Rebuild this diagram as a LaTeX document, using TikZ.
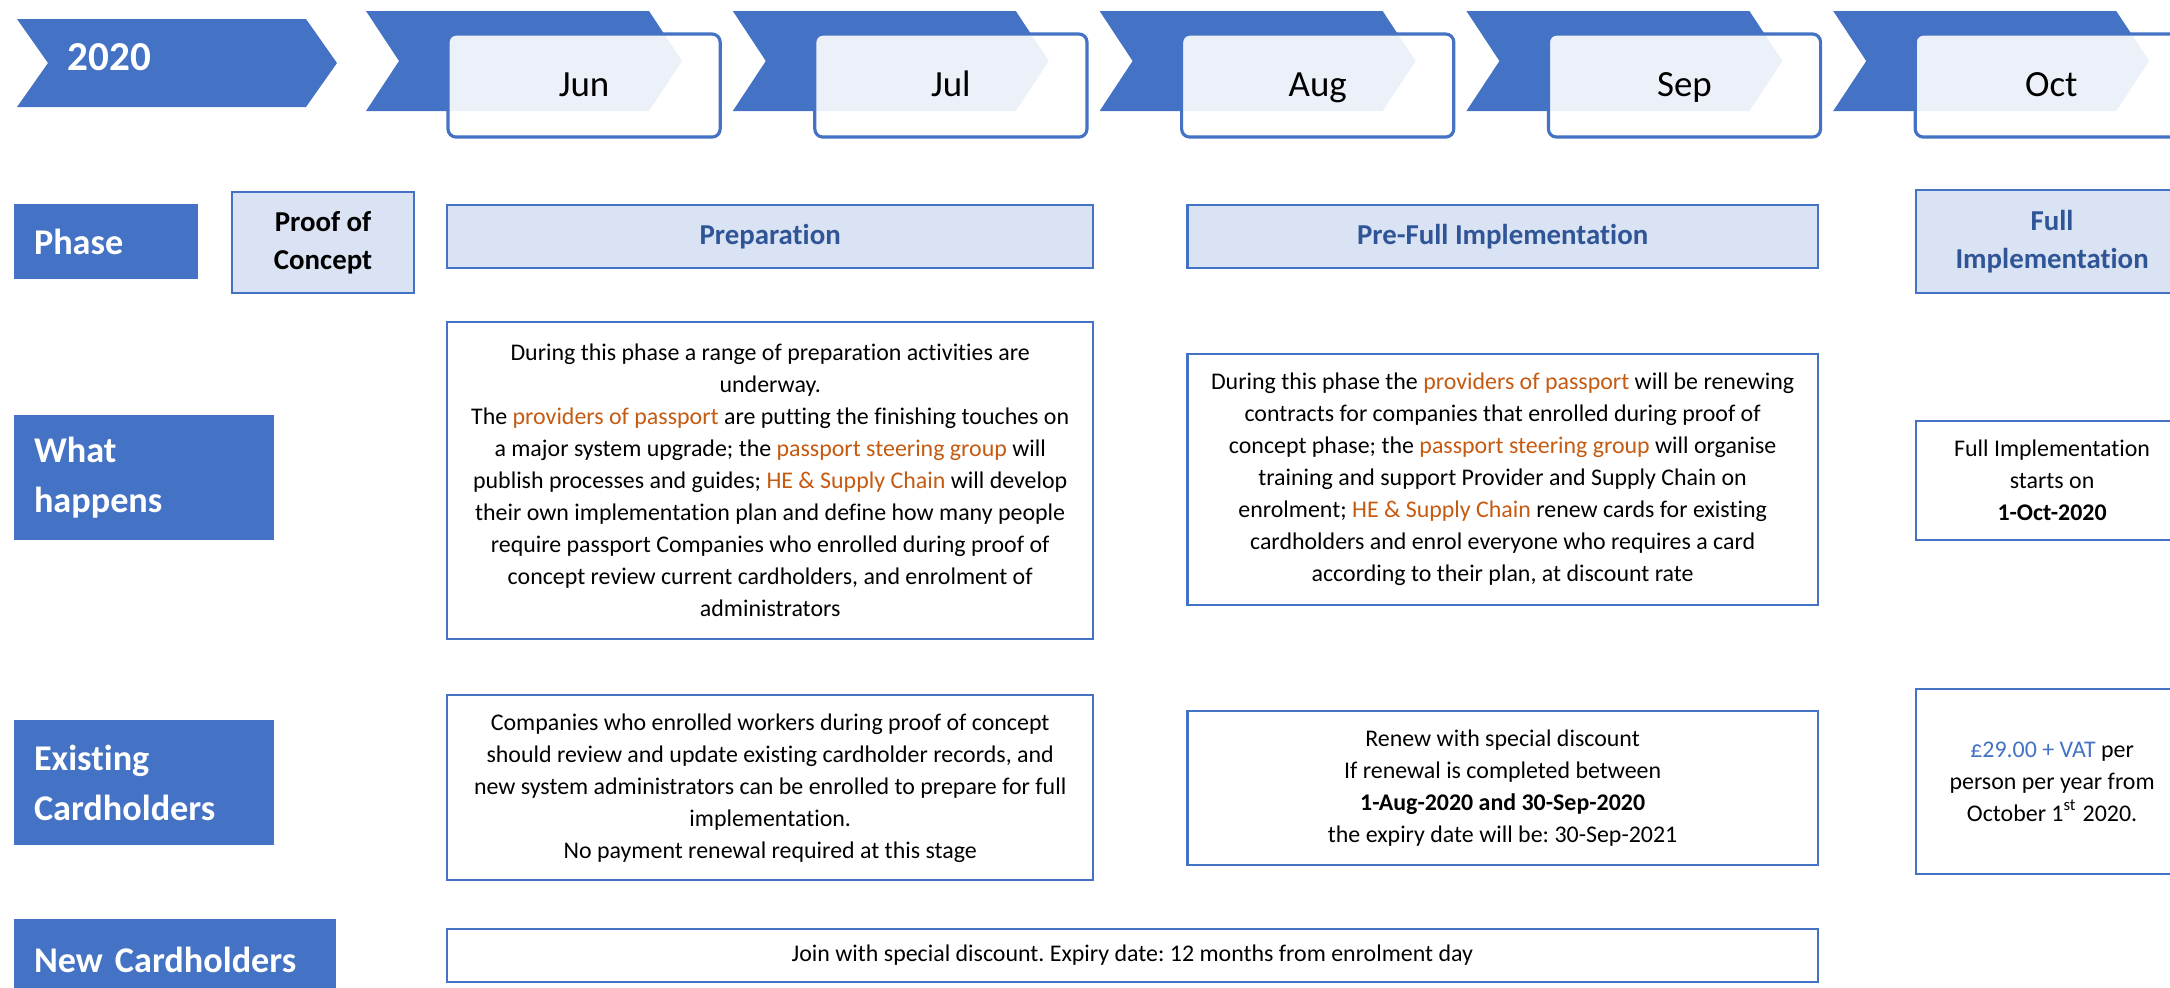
\documentclass[tikz,border=0pt]{standalone}
\usepackage{fontspec}
\setmainfont{Carlito}[Ligatures=NoCommon]
\frenchspacing
\usetikzlibrary{positioning}
\definecolor{accent}{HTML}{4472C4}
\definecolor{lightacc}{HTML}{DAE3F3}
\definecolor{darkacc}{HTML}{2F5597}
\definecolor{orgtxt}{HTML}{C55A11}
\newcommand{\org}[1]{\textcolor{orgtxt}{#1}}
\tikzset{
  chevron/.style={fill=accent, draw=none},
  monthbox/.style={draw=accent, line width=0.9pt, rounded corners=2.3pt, fill=white, fill opacity=0.9, text opacity=1, minimum width=2.72cm, minimum height=1.03cm, inner sep=0pt, outer sep=0pt, text height=8pt, text depth=1.5pt, anchor=north west, font=\fontsize{10.5}{12}\selectfont},
  rowlabel/.style={fill=accent, text=white, align=left, inner xsep=0.2cm, inner ysep=0pt, outer sep=0pt, anchor=north west, font=\bfseries\fontsize{10.3}{14.2}\selectfont},
  phasebox/.style={draw=accent, line width=0.6pt, fill=lightacc, text=darkacc, align=center, inner sep=0pt, outer sep=0pt, font=\bfseries\fontsize{8.2}{10.8}\selectfont},
  infobox/.style={draw=accent, line width=0.6pt, fill=white, align=center, inner sep=0pt, outer sep=0pt, font=\fontsize{6.8}{9.1}\selectfont}
}

\begin{document}
\begin{tikzpicture}[x=0.01cm, y=-0.01cm]
\useasboundingbox (0,0) rectangle (2170,987);
\clip (0,0) rectangle (2170,987);

% timeline
\fill[chevron] (17,19) -- (306,19) -- (337,63) -- (306,107) -- (17,107) -- (48,63) -- cycle;
\node[anchor=west, inner sep=0pt, text=white, font=\bfseries\fontsize{11.7}{14}\selectfont] (year) at (67,57) {2020};
\foreach \m [count=\i from 0] in {Jun,Jul,Aug,Sep,Oct} {
  \pgfmathsetmacro{\lx}{366+366.8*\i}
  \fill[chevron] (\lx,11) -- ++(283,0) -- ++(33,50) -- ++(-33,50) -- ++(-283,0) -- ++(33,-50) -- cycle;
  \node[monthbox] (month\i) at (\lx+82,34) {\m};
}

% row labels
\node[rowlabel, text width=1.44cm, minimum height=0.75cm] (phase) at (14,204) {Phase};
\node[rowlabel, text width=2.2cm, minimum height=1.25cm] (what) at (14,415) {What\\happens};
\node[rowlabel, text width=2.2cm, minimum height=1.25cm] (exist) at (14,720) {Existing\\Cardholders};
\node[rowlabel, text width=2.82cm, minimum height=0.82cm] (new) at (14,919) {New Cardholders};

% phases
\node[phasebox, text=black, minimum width=1.82cm, minimum height=1.01cm, anchor=north west] (poc) at (232,192) {Proof of\\Concept};
\node[phasebox, minimum width=6.46cm, minimum height=0.63cm, anchor=north west] (prep) at (447,205) {Preparation};
\node[phasebox, minimum width=6.30cm, minimum height=0.63cm, right=0.94cm of prep] (prefull) {Pre-Full Implementation};
\node[phasebox, minimum width=2.72cm, minimum height=1.03cm, anchor=north west] (full) at (1916,190) {Full\\Implementation};

% what happens
\node[infobox, minimum width=6.46cm, minimum height=3.17cm, below=0.54cm of prep] (prepwhat) {During this phase a range of preparation activities are\\
underway.\\
The \org{providers of passport} are putting the finishing touches on\\
a major system upgrade; the \org{passport steering group} will\\
publish processes and guides; \org{HE \& Supply Chain} will develop\\
their own implementation plan and define how many people\\
require passport Companies who enrolled during proof of\\
concept review current cardholders, and enrolment of\\
administrators};
\node[infobox, minimum width=6.30cm, minimum height=2.51cm, below=0.86cm of prefull] (prefullwhat) {During this phase the \org{providers of passport} will be renewing\\
contracts for companies that enrolled during proof of\\
concept phase; the \org{passport steering group} will organise\\
training and support Provider and Supply Chain on\\
enrolment; \org{HE \& Supply Chain} renew cards for existing\\
cardholders and enrol everyone who requires a card\\
according to their plan, at discount rate};
\node[infobox, minimum width=2.72cm, minimum height=1.19cm, below=1.28cm of full] (fullwhat) {Full Implementation\\starts on\\\textbf{1-Oct-2020}};

% existing cardholders
\node[infobox, minimum width=6.46cm, minimum height=1.85cm, below=0.56cm of prepwhat] (prepexist) {Companies who enrolled workers during proof of concept\\
should review and update existing cardholder records, and\\
new system administrators can be enrolled to prepare for full\\
implementation.\\
No payment renewal required at this stage};
\node[infobox, minimum width=6.30cm, minimum height=1.54cm, below=1.06cm of prefullwhat] (prefullexist) {Renew with special discount\\
If renewal is completed between\\
\textbf{1-Aug-2020 and 30-Sep-2020}\\
the expiry date will be: 30-Sep-2021};
\node[infobox, minimum width=2.72cm, minimum height=1.85cm, below=1.49cm of fullwhat] (fullexist) {\textcolor{accent}{£29.00 + VAT} per\\person per year from\\October 1\textsuperscript{st} 2020.};

% new cardholders
\node[infobox, minimum width=13.70cm, minimum height=0.53cm, anchor=north west] (newbar) at (447,929) {Join with special discount. Expiry date: 12 months from enrolment day};

\end{tikzpicture}
\end{document}
